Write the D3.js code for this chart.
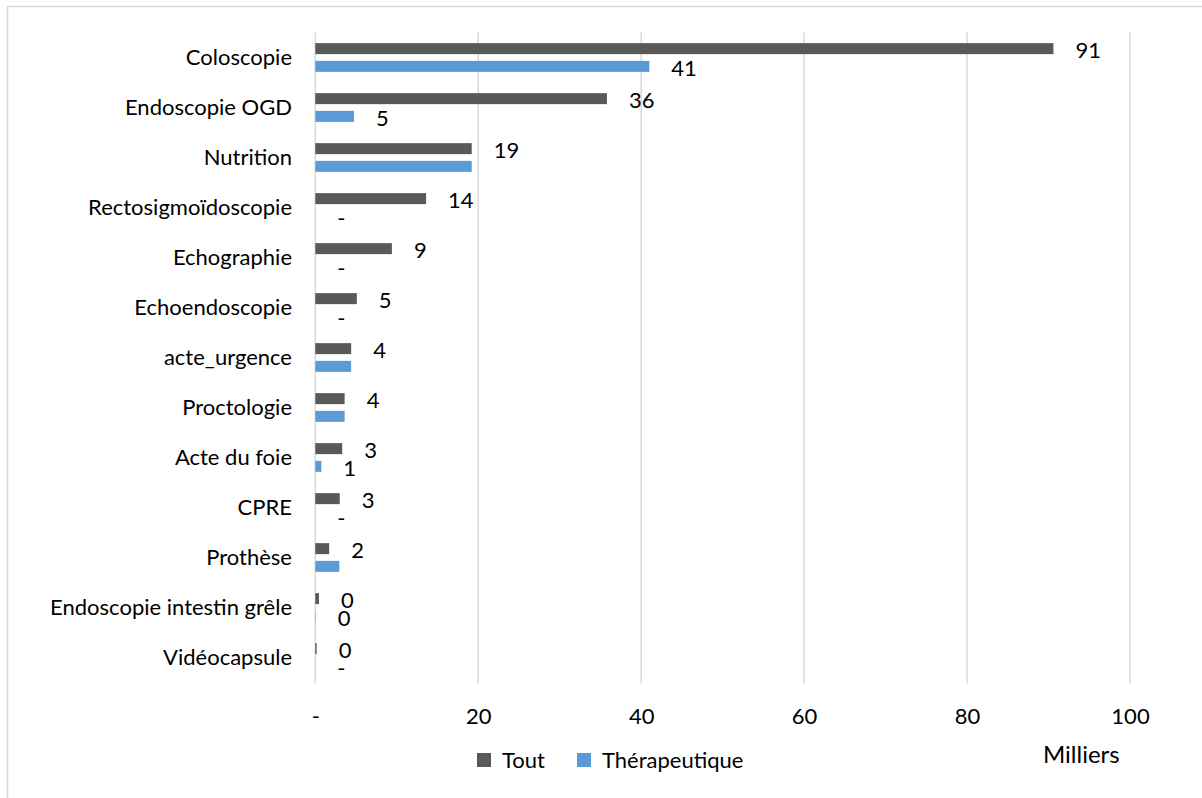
<!DOCTYPE html>
<html>
<head>
<meta charset="utf-8">
<script src="https://cdn.jsdelivr.net/npm/d3@7"></script>
<style>
  html, body { margin: 0; padding: 0; background: #fff; }
  svg { display: block; font-family: Lato, "Open Sans", sans-serif; }
</style>
</head>
<body>
<svg id="chart" width="1202" height="798"></svg>
<script>
// Activity by type of act, in thousands
const categories = [
  "Coloscopie", "Endoscopie OGD", "Nutrition", "Rectosigmoïdoscopie",
  "Echographie", "Echoendoscopie", "acte_urgence", "Proctologie",
  "Acte du foie", "CPRE", "Prothèse", "Endoscopie intestin grêle", "Vidéocapsule"
];
const seriesNames = ["Tout", "Thérapeutique"];
const toutValues = [90.6, 35.8, 19.2, 13.6, 9.4, 5.1, 4.4, 3.6, 3.3, 3.0, 1.7, 0.45, 0.17];
const therValues = [41.0, 4.75, 19.2, 0, 0, 0, 4.4, 3.6, 0.74, 0, 2.95, 0.05, 0];
// Categories whose Thérapeutique value carries no data label
const therUnlabelled = ["Nutrition", "acte_urgence", "Proctologie", "Prothèse"];
const xTicks = [0, 20, 40, 60, 80, 100];
const unitLabel = "Milliers";

const colors = { "Tout": "#595959", "Thérapeutique": "#5B9BD5" };
const fontSize = 22;

const svg = d3.select("#chart");

// Chart area frame
svg.append("rect")
  .attr("x", 7.5).attr("y", 6.5)
  .attr("width", 1210).attr("height", 810)
  .attr("fill", "none").attr("stroke", "#D9D9D9").attr("stroke-width", 1.5);

const plot = { left: 315.3, right: 1130, top: 32.5, bottom: 682.5 };

const x = d3.scaleLinear().domain([0, 100]).range([plot.left, plot.right]);
const y = d3.scaleBand().domain(categories).range([plot.top, plot.bottom]);
const ySub = d3.scaleBand().domain(seriesNames).range([0, y.bandwidth()])
  .paddingInner(0.38).paddingOuter(0.6);

const fmt = v => v === 0 ? "-" : d3.format(".0f")(v);

// Vertical gridlines
svg.append("g").selectAll("line")
  .data(xTicks)
  .join("line")
  .attr("x1", d => x(d)).attr("x2", d => x(d))
  .attr("y1", plot.top).attr("y2", plot.bottom + 1)
  .attr("stroke", "#D9D9D9").attr("stroke-width", 1.5);

// X axis tick labels
const xAxis = d3.axisBottom(x).tickValues(xTicks).tickSize(0).tickPadding(0).tickFormat(fmt);
const gx = svg.append("g")
  .attr("transform", `translate(0, 716)`)
  .call(xAxis);
gx.select(".domain").remove();
gx.selectAll("text")
  .attr("dy", "0.35em").attr("y", 0)
  .attr("font-size", fontSize).attr("fill", "#000")
  .style("font-family", "Lato, 'Open Sans', sans-serif");

// Category labels
const yAxis = d3.axisLeft(y).tickSize(0).tickPadding(0);
const gy = svg.append("g")
  .attr("transform", `translate(292, 0)`)
  .call(yAxis);
gy.select(".domain").remove();
gy.selectAll("text")
  .attr("font-size", fontSize).attr("fill", "#000")
  .style("font-family", "Lato, 'Open Sans', sans-serif");

// Bars
const rows = categories.map((c, i) => ({
  cat: c,
  values: [
    { s: "Tout", v: toutValues[i], label: true },
    { s: "Thérapeutique", v: therValues[i], label: !therUnlabelled.includes(c) }
  ]
}));

const groups = svg.append("g").selectAll("g")
  .data(rows)
  .join("g")
  .attr("transform", d => `translate(0, ${y(d.cat)})`);

groups.selectAll("rect")
  .data(d => d.values)
  .join("rect")
  .attr("x", x(0))
  .attr("y", d => ySub(d.s))
  .attr("width", d => x(d.v) - x(0))
  .attr("height", ySub.bandwidth())
  .attr("fill", d => colors[d.s]);

// Data labels
groups.selectAll("text")
  .data(d => d.values.filter(e => e.label))
  .join("text")
  .attr("x", d => x(d.v) + 22)
  .attr("y", d => ySub(d.s) + ySub.bandwidth() / 2 + 2)
  .attr("dy", "0.35em")
  .attr("font-size", fontSize)
  .attr("fill", "#000")
  .text(d => fmt(d.v));

// Legend
const legend = svg.append("g").attr("transform", "translate(477, 760)");
const legendX = [0, 100];
seriesNames.forEach((s, i) => {
  const g = legend.append("g").attr("transform", `translate(${legendX[i]}, 0)`);
  g.append("rect").attr("x", 0).attr("y", -7).attr("width", 14).attr("height", 14)
    .attr("fill", colors[s]);
  g.append("text").attr("x", 25).attr("y", 0).attr("dy", "0.35em")
    .attr("font-size", fontSize).attr("fill", "#000").text(s);
});

// Unit label
svg.append("text")
  .attr("x", 1043).attr("y", 755).attr("dy", "0.35em")
  .attr("font-size", 24).attr("fill", "#000")
  .text(unitLabel);
</script>
</body>
</html>
